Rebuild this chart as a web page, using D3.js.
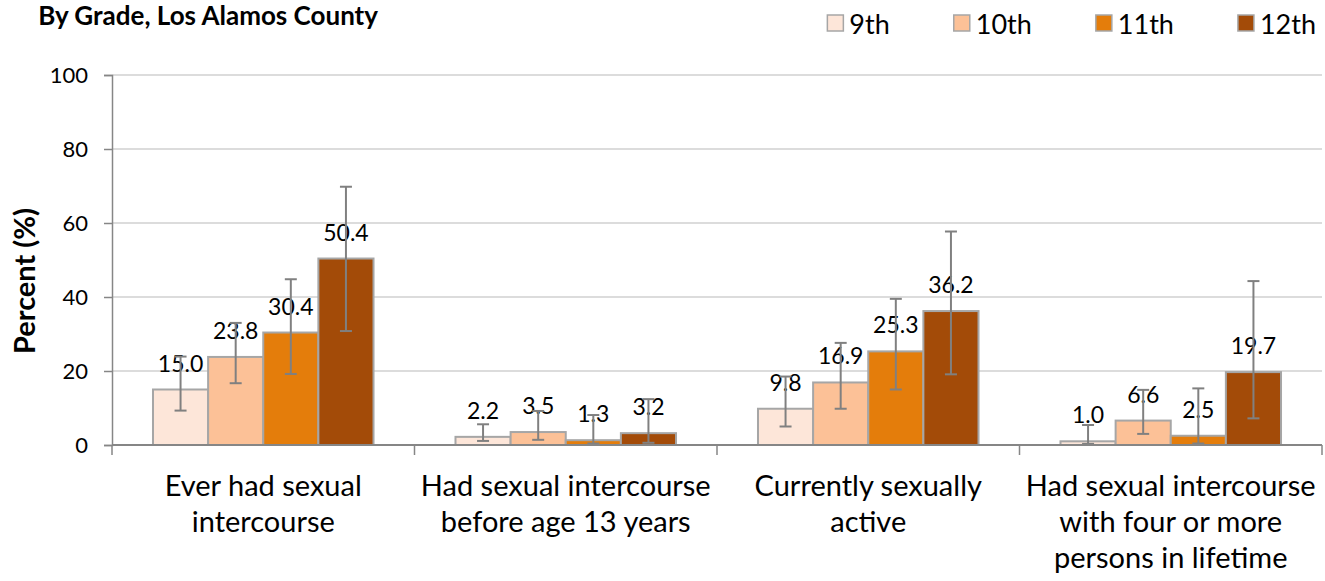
<!DOCTYPE html>
<html>
<head>
<meta charset="utf-8">
<script src="https://cdn.jsdelivr.net/npm/d3@7"></script>
<style>
  html, body { margin: 0; padding: 0; background: #fff; }
  svg { display: block; }
  text { font-family: Lato, "Open Sans", sans-serif; fill: #000; }
</style>
</head>
<body>
<svg id="chart" width="1325" height="581"></svg>
<script>
// Sexual behaviour indicators by grade, Los Alamos County
const categories = [
  "Ever had sexual intercourse",
  "Had sexual intercourse before age 13 years",
  "Currently sexually active",
  "Had sexual intercourse with four or more persons in lifetime"
];
const categoryLines = [
  ["Ever had sexual", "intercourse"],
  ["Had sexual intercourse", "before age 13 years"],
  ["Currently sexually", "active"],
  ["Had sexual intercourse", "with four or more", "persons in lifetime"]
];
const grades = ["9th", "10th", "11th", "12th"];
const gradeColors = ["#fde6d9", "#fcc197", "#e47d0b", "#a34b08"];

// Percent per category, one value per grade
const values = [
  [15.0, 23.8, 30.4, 50.4],
  [2.2, 3.5, 1.3, 3.2],
  [9.8, 16.9, 25.3, 36.2],
  [1.0, 6.6, 2.5, 19.7]
];
// 95% confidence interval bounds
const ciLower = [
  [9.3, 16.7, 19.2, 30.8],
  [1.1, 1.4, 0.4, 0.6],
  [5.0, 9.8, 15.0, 19.1],
  [0.3, 3.0, 0.4, 7.2]
];
const ciUpper = [
  [23.9, 33.0, 44.8, 69.8],
  [5.6, 9.2, 8.1, 12.4],
  [18.5, 27.6, 39.5, 57.7],
  [5.4, 14.9, 15.3, 44.3]
];
const yTicks = [0, 20, 40, 60, 80, 100];

const svg = d3.select("#chart");
const margin = { left: 112, right: 3, top: 75, bottom: 136 };
const W = 1325, H = 581;
const plotW = W - margin.left - margin.right;
const plotH = H - margin.top - margin.bottom;

const g = svg.append("g").attr("transform", `translate(${margin.left},${margin.top})`);

const x0 = d3.scaleBand().domain(categories).range([0, plotW]).padding(0);
const x1 = d3.scaleBand().domain(grades)
  .range([x0.bandwidth() * 0.1355, x0.bandwidth() * 0.8645]).padding(0);
const y = d3.scaleLinear().domain([0, 100]).range([plotH, 0]);

// Gridlines
g.append("g").selectAll("line").data(yTicks.filter(t => t > 0)).join("line")
  .attr("x1", 0).attr("x2", plotW)
  .attr("y1", d => y(d)).attr("y2", d => y(d))
  .attr("stroke", "#d0d0d0").attr("stroke-width", 1.5);

// Y axis
const yAxis = g.append("g")
  .call(d3.axisLeft(y).tickValues(yTicks).tickSize(8).tickPadding(16).tickFormat(d3.format("d")));
yAxis.select(".domain").attr("stroke", "#868686").attr("stroke-width", 1.5);
yAxis.selectAll(".tick line").attr("stroke", "#868686").attr("stroke-width", 1.5);
yAxis.selectAll(".tick text").attr("font-size", 22).attr("font-family", "Lato, sans-serif").attr("fill", "#000");

// Bars
const groups = g.append("g").selectAll("g").data(categories).join("g")
  .attr("transform", d => `translate(${x0(d)},0)`);

groups.each(function(cat, ci) {
  const gg = d3.select(this);
  const rows = grades.map((gr, i) => ({
    grade: gr, color: gradeColors[i], v: values[ci][i], lo: ciLower[ci][i], hi: ciUpper[ci][i]
  }));
  gg.selectAll("rect").data(rows).join("rect")
    .attr("x", d => x1(d.grade))
    .attr("y", d => y(d.v))
    .attr("width", x1.bandwidth())
    .attr("height", d => y(0) - y(d.v))
    .attr("fill", d => d.color)
    .attr("stroke", "#a6a6a6").attr("stroke-width", 2);

  // Value labels
  gg.selectAll("text.val").data(rows).join("text").attr("class", "val")
    .attr("x", d => x1(d.grade) + x1.bandwidth() / 2)
    .attr("y", d => y(d.v) - 18)
    .attr("text-anchor", "middle")
    .attr("font-size", 23)
    .text(d => d.v.toFixed(1));

  // Error bars
  const eb = gg.selectAll("g.err").data(rows).join("g").attr("class", "err")
    .attr("stroke", "#808080").attr("stroke-width", 2);
  eb.append("line")
    .attr("x1", d => x1(d.grade) + x1.bandwidth() / 2)
    .attr("x2", d => x1(d.grade) + x1.bandwidth() / 2)
    .attr("y1", d => y(d.lo)).attr("y2", d => y(d.hi));
  eb.append("line")
    .attr("x1", d => x1(d.grade) + x1.bandwidth() / 2 - 6)
    .attr("x2", d => x1(d.grade) + x1.bandwidth() / 2 + 6)
    .attr("y1", d => y(d.hi)).attr("y2", d => y(d.hi));
  eb.append("line")
    .attr("x1", d => x1(d.grade) + x1.bandwidth() / 2 - 6)
    .attr("x2", d => x1(d.grade) + x1.bandwidth() / 2 + 6)
    .attr("y1", d => y(d.lo)).attr("y2", d => y(d.lo));
});

// X axis
const xAxis = g.append("g").attr("transform", `translate(0,${plotH})`);
xAxis.append("line").attr("x1", 0).attr("x2", plotW).attr("y1", 0).attr("y2", 0)
  .attr("stroke", "#868686").attr("stroke-width", 2);
const boundaries = categories.map(c => x0(c)).concat([x0(categories[categories.length - 1]) + x0.bandwidth()]);
xAxis.selectAll("line.tk").data(boundaries).join("line").attr("class", "tk")
  .attr("x1", d => d).attr("x2", d => d).attr("y1", 0).attr("y2", 10)
  .attr("stroke", "#868686").attr("stroke-width", 1.5);
xAxis.selectAll("text.cat").data(categories).join("text").attr("class", "cat")
  .attr("text-anchor", "middle")
  .attr("font-size", 29)
  .each(function(c, i) {
    const t = d3.select(this);
    categoryLines[i].forEach((ln, j) => {
      t.append("tspan")
        .attr("x", x0(c) + x0.bandwidth() / 2)
        .attr("y", 51 + j * 36)
        .text(ln);
    });
  });

// Y axis title
svg.append("text")
  .attr("transform", `translate(35,281) rotate(-90)`)
  .attr("text-anchor", "middle")
  .attr("font-size", 29).attr("font-weight", "bold")
  .text("Percent (%)");

// Title
svg.append("text")
  .attr("x", 378).attr("y", 25)
  .attr("text-anchor", "end")
  .attr("font-size", 26).attr("font-weight", "bold")
  .text("By Grade, Los Alamos County");

// Legend
const legend = svg.append("g");
const items = [];
grades.forEach((gr, i) => {
  const it = legend.append("g");
  it.append("rect").attr("x", 0).attr("y", 15).attr("width", 16).attr("height", 16)
    .attr("fill", gradeColors[i]).attr("stroke", "#a6a6a6").attr("stroke-width", 1.5);
  const tx = it.append("text").attr("x", 22).attr("y", 34).attr("font-size", 27).text(gr);
  items.push({ node: it, w: 22 + tx.node().getComputedTextLength() });
});
const gap = 64;
const totalW = d3.sum(items, d => d.w) + gap * (items.length - 1);
let lx = 1316 - totalW;
items.forEach(d => { d.node.attr("transform", `translate(${lx},0)`); lx += d.w + gap; });
</script>
</body>
</html>
